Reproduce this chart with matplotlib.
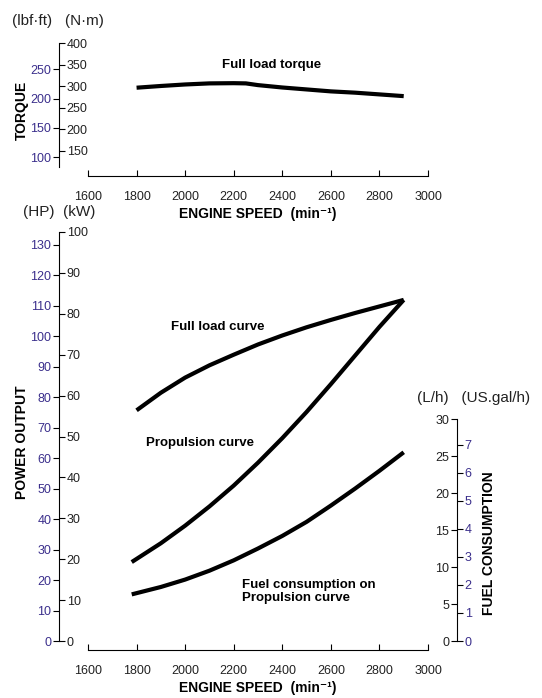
import matplotlib
matplotlib.use('Agg')
import matplotlib.pyplot as plt

plt.rcParams['font.family'] = ['Liberation Sans', 'DejaVu Sans']

# torque curve (N·m)
torque_rpm = [1800, 1900, 2000, 2100, 2200, 2250, 2300, 2400, 2500, 2600, 2700, 2800, 2900]
torque_nm = [296.5, 300.5, 304, 306.5, 307, 306.5, 302.5, 297, 292.5, 288, 285, 281, 277]

# power curves (kW)
full_rpm = [1800, 1900, 2000, 2100, 2200, 2300, 2400, 2500, 2600, 2700, 2800, 2900]
full_kw = [56.4, 60.7, 64.4, 67.4, 70.0, 72.5, 74.7, 76.7, 78.5, 80.2, 81.8, 83.4]

prop_rpm = [1780, 1900, 2000, 2100, 2200, 2300, 2400, 2500, 2600, 2700, 2800, 2900]
prop_kw = [19.3, 23.9, 28.2, 32.9, 38.0, 43.6, 49.6, 56.0, 62.8, 69.8, 76.8, 83.4]

# fuel consumption on propulsion curve (L/h)
fuel_rpm = [1780, 1900, 2000, 2100, 2200, 2300, 2400, 2500, 2600, 2700, 2800, 2900]
fuel_lh = [6.3, 7.3, 8.3, 9.5, 10.9, 12.5, 14.2, 16.1, 18.3, 20.6, 23.0, 25.5]

speed_ticks = [1600, 1800, 2000, 2200, 2400, 2600, 2800, 3000]
nm_ticks = [150, 200, 250, 300, 350, 400]
lbf_ticks = [100, 150, 200, 250]
kw_ticks = list(range(0, 101, 10))
hp_ticks = list(range(0, 131, 10))
lh_ticks = [0, 5, 10, 15, 20, 25, 30]
gal_ticks = [0, 1, 2, 3, 4, 5, 6, 7]

purple = '#3b2f8c'
dark = '#222222'
W, H = 542, 698

fig = plt.figure(figsize=(W / 100, H / 100), dpi=100)


def box(left, top, right, bottom):
    return [left / W, 1 - bottom / H, (right - left) / W, (bottom - top) / H]


XLIM = (1480.6, 3119.4)

#___________________________________________________________________________
# top panel: torque
ax1 = fig.add_axes(box(59, 43, 457, 176))
ax1.plot(torque_rpm, torque_nm, color='black', lw=3, solid_capstyle='butt')
ax1.set_xlim(XLIM)
ax1.set_ylim(92.1, 400)
ax1.set_xticks(speed_ticks)
ax1.tick_params(axis='x', direction='in', length=4, pad=11, labelsize=9, labelcolor=dark)
ax1.spines['bottom'].set_bounds(1600, 3000)
ax1.spines['top'].set_visible(False)
ax1.spines['left'].set_visible(False)
ax1.yaxis.set_ticks_position('right')
ax1.spines['right'].set_position(('axes', 0))
ax1.spines['right'].set_bounds(114, 400)
ax1.set_yticks(nm_ticks)
ax1.tick_params(axis='y', direction='out', length=4, pad=1.5, labelsize=9, labelcolor=dark)
sec1 = ax1.secondary_yaxis('left', functions=(lambda v: v / 1.3558, lambda v: v * 1.3558))
sec1.set_yticks(lbf_ticks)
sec1.spines['left'].set_visible(False)
sec1.tick_params(direction='out', length=4, pad=1.5, labelsize=9, labelcolor=purple)
ax1.text(2357, 349, 'Full load torque', ha='center', va='center', fontsize=9.5, fontweight='bold')
ax1.set_xlabel('ENGINE SPEED  (min⁻¹)', fontsize=10, fontweight='bold', labelpad=3)

#___________________________________________________________________________
# bottom panel: power and fuel
ax2 = fig.add_axes(box(59, 232, 457, 650))
ax2.plot(full_rpm, full_kw, color='black', lw=3, solid_capstyle='butt')
ax2.plot(prop_rpm, prop_kw, color='black', lw=3, solid_capstyle='butt')
ax2.set_xlim(XLIM)
ax2.set_ylim(-2.2, 100)

axf = ax2.twinx()
axf.plot(fuel_rpm, fuel_lh, color='black', lw=3, solid_capstyle='butt')
axf.set_ylim(-2.2 * 4.09 / 7.4, 100 * 4.09 / 7.4)
for s in ['top', 'bottom', 'right']:
    axf.spines[s].set_visible(False)
axf.yaxis.set_ticks_position('left')
axf.spines['left'].set_position(('axes', 1))
axf.spines['left'].set_bounds(0, 30)
axf.set_yticks(lh_ticks)
axf.tick_params(axis='y', direction='out', length=4, pad=1.5, labelsize=9, labelcolor=dark)
secf = axf.secondary_yaxis('right', functions=(lambda v: v / 3.785, lambda v: v * 3.785))
secf.set_yticks(gal_ticks)
secf.spines['right'].set_visible(False)
secf.tick_params(direction='out', length=4, pad=1.5, labelsize=9, labelcolor=purple)

# kW ticks on the right side of the left spine (after twinx, which resets them)
ax2.set_xticks(speed_ticks)
ax2.tick_params(axis='x', direction='in', length=4, pad=11, labelsize=9, labelcolor=dark)
ax2.spines['bottom'].set_bounds(1600, 3000)
ax2.spines['top'].set_visible(False)
ax2.spines['left'].set_visible(False)
ax2.yaxis.set_ticks_position('right')
ax2.yaxis.set_label_position('right')
ax2.spines['right'].set_visible(True)
ax2.spines['right'].set_position(('axes', 0))
ax2.spines['right'].set_bounds(0, 100)
ax2.set_yticks(kw_ticks)
ax2.tick_params(axis='y', direction='out', length=4, pad=1.5, labelsize=9, labelcolor=dark)
sec2 = ax2.secondary_yaxis('left', functions=(lambda v: v * 1.341, lambda v: v / 1.341))
sec2.set_yticks(hp_ticks)
sec2.spines['left'].set_visible(False)
sec2.tick_params(direction='out', length=4, pad=1.5, labelsize=9, labelcolor=purple)
ax2.set_xlabel('ENGINE SPEED  (min⁻¹)', fontsize=10, fontweight='bold', labelpad=3)

ax2.text(2135, 76.8, 'Full load curve', ha='center', va='center', fontsize=9.5, fontweight='bold')
ax2.text(2061, 48.4, 'Propulsion curve', ha='center', va='center', fontsize=9.5, fontweight='bold')
ax2.text(2234, 12.2, 'Fuel consumption on\nPropulsion curve', ha='left', va='center',
         fontsize=9.5, fontweight='bold', linespacing=1.1)

# unit headers and axis titles
fig.text(12 / W, 1 - 21 / H, '(lbf·ft)   (N·m)', fontsize=11, va='center', color=dark)
fig.text(23 / W, 1 - 212 / H, '(HP)  (kW)', fontsize=11, va='center', color=dark)
fig.text(417 / W, 1 - 398 / H, '(L/h)   (US.gal/h)', fontsize=11, va='center', color=dark)
fig.text(22 / W, 1 - 110 / H, 'TORQUE', rotation=90, ha='center', va='center',
         fontsize=10, fontweight='bold')
fig.text(22 / W, 1 - 442 / H, 'POWER OUTPUT', rotation=90, ha='center', va='center',
         fontsize=10, fontweight='bold')
fig.text(489 / W, 1 - 543 / H, 'FUEL CONSUMPTION', rotation=90, ha='center', va='center',
         fontsize=10, fontweight='bold')

fig.savefig('out.png', dpi=100)
